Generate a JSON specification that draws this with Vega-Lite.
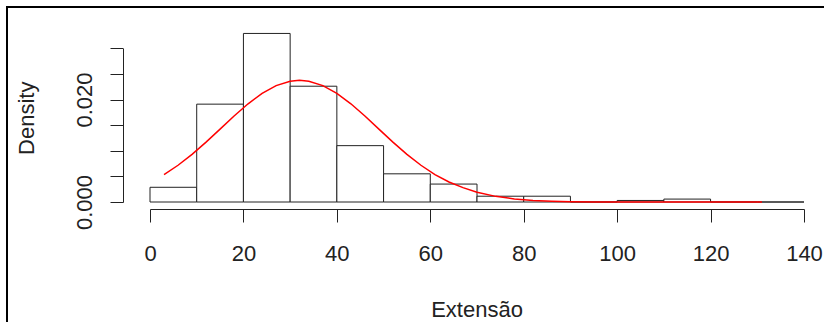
{
  "$schema": "https://vega.github.io/schema/vega-lite/v6.json",
  "autosize": "none",
  "width": 820,
  "height": 318,
  "padding": {"left": 7, "top": 7, "right": -3, "bottom": -3},
  "background": "white",
  "config": {
    "view": {"stroke": "black", "strokeWidth": 2, "fill": "white"},
    "axis": {
      "grid": false,
      "domainColor": "#222",
      "tickColor": "#222",
      "domainWidth": 1,
      "tickWidth": 1,
      "tickSize": 13,
      "labelFont": "Liberation Sans",
      "labelFontSize": 22,
      "labelColor": "#222",
      "titleFont": "Liberation Sans",
      "titleFontSize": 22,
      "titleFontWeight": "normal",
      "titleColor": "#222"
    }
  },
  "datasets": {
    "bins": [
      {"start": 0, "end": 10, "density": 0.00287},
      {"start": 10, "end": 20, "density": 0.0191},
      {"start": 20, "end": 30, "density": 0.0329},
      {"start": 30, "end": 40, "density": 0.0226},
      {"start": 40, "end": 50, "density": 0.011},
      {"start": 50, "end": 60, "density": 0.0055},
      {"start": 60, "end": 70, "density": 0.0035},
      {"start": 70, "end": 80, "density": 0.00113},
      {"start": 80, "end": 90, "density": 0.00113},
      {"start": 90, "end": 100, "density": 0},
      {"start": 100, "end": 110, "density": 0.0003},
      {"start": 110, "end": 120, "density": 0.00057},
      {"start": 120, "end": 130, "density": 0},
      {"start": 130, "end": 140, "density": 0}
    ],
    "curve": [
      {"x": 3, "y": 0.00535},
      {"x": 6, "y": 0.00717},
      {"x": 9, "y": 0.0093},
      {"x": 12, "y": 0.01169},
      {"x": 15, "y": 0.01423},
      {"x": 18, "y": 0.01678},
      {"x": 21, "y": 0.01917},
      {"x": 24, "y": 0.0212},
      {"x": 27, "y": 0.02272},
      {"x": 30, "y": 0.02358},
      {"x": 32, "y": 0.02375},
      {"x": 34, "y": 0.02358},
      {"x": 37, "y": 0.02272},
      {"x": 40, "y": 0.0212},
      {"x": 43, "y": 0.01917},
      {"x": 46, "y": 0.01678},
      {"x": 49, "y": 0.01423},
      {"x": 52, "y": 0.01169},
      {"x": 55, "y": 0.0093},
      {"x": 58, "y": 0.00717},
      {"x": 61, "y": 0.00535},
      {"x": 64, "y": 0.0039},
      {"x": 67, "y": 0.0028},
      {"x": 70, "y": 0.0019},
      {"x": 74, "y": 0.0011},
      {"x": 78, "y": 0.0006},
      {"x": 82, "y": 0.0003},
      {"x": 86, "y": 0.00014},
      {"x": 90, "y": 0.00006},
      {"x": 95, "y": 0.00002},
      {"x": 100, "y": 0.000007},
      {"x": 110, "y": 0.0000003},
      {"x": 120, "y": 0},
      {"x": 131, "y": 0}
    ]
  },
  "layer": [
    {
      "data": {"name": "bins"},
      "mark": {"type": "rect", "fill": "white", "stroke": "#222", "strokeWidth": 1},
      "encoding": {
        "x": {
          "field": "start",
          "type": "quantitative",
          "scale": {"domain": [0, 140], "range": [143, 797], "nice": false, "zero": false},
          "axis": {
            "title": "Extensão",
            "values": [0, 20, 40, 60, 80, 100, 120, 140],
            "format": "d",
            "offset": -116,
            "labelPadding": 38,
            "labelBaseline": "alphabetic",
            "labelAlign": "center",
            "titleX": 469.5,
            "titleY": 107,
            "titleAlign": "center",
            "titleBaseline": "alphabetic",
            "titleAnchor": null
          }
        },
        "x2": {"field": "end"},
        "y": {
          "field": "density",
          "type": "quantitative",
          "scale": {"domain": [0, 0.03], "range": [195, 41.3], "nice": false, "zero": false},
          "axis": {
            "title": "Density",
            "values": [0, 0.005, 0.01, 0.015, 0.02, 0.025, 0.03],
            "labelExpr": "datum.value < 0.0001 ? '0.000' : (abs(datum.value - 0.02) < 0.0001 ? '0.020' : '')",
            "offset": -116,
            "labelAngle": -90,
            "labelAlign": "center",
            "labelBaseline": "alphabetic",
            "labelPadding": 19,
            "labelOverlap": false,
            "titleAngle": -90,
            "titleX": -90,
            "titleY": 110.8,
            "titleAlign": "center",
            "titleBaseline": "alphabetic",
            "titleAnchor": null
          }
        },
        "y2": {"datum": 0}
      }
    },
    {
      "data": {"name": "curve"},
      "mark": {"type": "line", "color": "red", "strokeWidth": 1.5, "interpolate": "linear"},
      "encoding": {
        "x": {"field": "x", "type": "quantitative"},
        "y": {"field": "y", "type": "quantitative"}
      }
    }
  ]
}
